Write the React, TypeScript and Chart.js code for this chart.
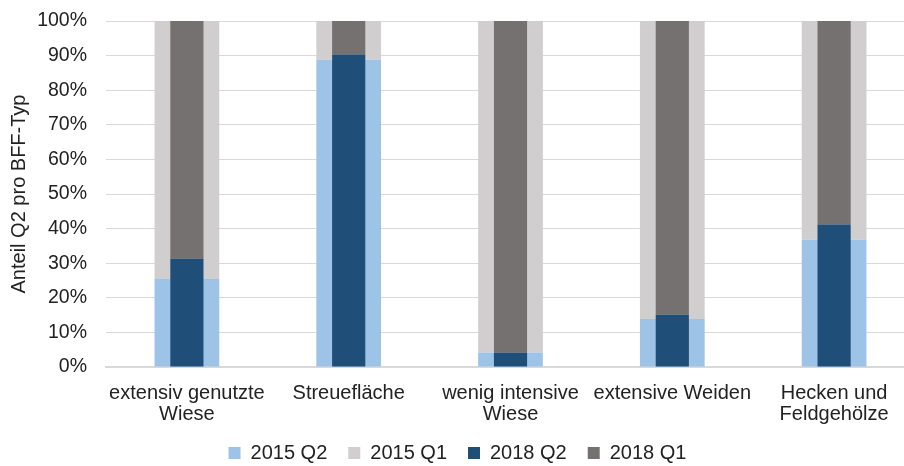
import React, { useEffect, useRef } from "react";
import { Chart, registerables } from "chart.js";

Chart.register(...registerables);

const categories: string[][] = [
  ["extensiv genutzte", "Wiese"],
  ["Streuefläche"],
  ["wenig intensive", "Wiese"],
  ["extensive Weiden"],
  ["Hecken und", "Feldgehölze"],
];

const q2_2015: number[] = [25.4, 88.8, 4.2, 13.9, 36.8];
const q1_2015: number[] = [74.6, 11.2, 95.8, 86.1, 63.2];
const q2_2018: number[] = [31.3, 90.3, 4.1, 15.1, 41.2];
const q1_2018: number[] = [68.7, 9.7, 95.9, 84.9, 58.8];

const seriesNames: string[] = ["2015 Q2", "2015 Q1", "2018 Q2", "2018 Q1"];
const yTicks: number[] = [0, 10, 20, 30, 40, 50, 60, 70, 80, 90, 100];

const FONT = "'Liberation Sans', Arial, sans-serif";
const TEXT = "#222222";

export default function App() {
  const ref = useRef<HTMLCanvasElement | null>(null);

  useEffect(() => {
    if (!ref.current) return;
    const chart = new Chart(ref.current, {
      type: "bar",
      data: {
        labels: categories,
        datasets: [
          { label: seriesNames[0], data: q2_2015, stack: "s2015", backgroundColor: "#9DC3E6", barPercentage: 0.4, order: 2 },
          { label: seriesNames[1], data: q1_2015, stack: "s2015", backgroundColor: "#D0CECE", barPercentage: 0.4, order: 2 },
          { label: seriesNames[2], data: q2_2018, stack: "s2018", backgroundColor: "#1F4E79", barPercentage: 0.205, order: 1 },
          { label: seriesNames[3], data: q1_2018, stack: "s2018", backgroundColor: "#767171", barPercentage: 0.205, order: 1 },
        ].map((d) => ({ ...d, borderWidth: 0, categoryPercentage: 1, grouped: false })),
      },
      options: {
        responsive: false,
        animation: false,
        devicePixelRatio: 1,
        layout: { padding: { top: 21, left: 0, right: 0, bottom: -7 } },
        plugins: {
          tooltip: { enabled: false },
          legend: {
            position: "bottom",
            labels: {
              boxWidth: 12,
              boxHeight: 12,
              padding: 21,
              color: TEXT,
              font: { family: FONT, size: 20 },
              sort: (a: any, b: any) => a.datasetIndex - b.datasetIndex,
            },
          },
        },
        scales: {
          x: {
            stacked: false,
            grid: { display: false },
            border: { display: true, color: "#D9D9D9", width: 2 },
            ticks: {
              autoSkip: false,
              maxRotation: 0,
              padding: 8,
              color: TEXT,
              font: { family: FONT, size: 20, lineHeight: 1.05 },
            },
            afterFit: (s: any) => {
              s.height = 55;
              s._computeLabelArea = () => undefined;
            },
          },
          y: {
            stacked: true,
            min: 0,
            max: 100,
            afterBuildTicks: (s: any) => {
              s.ticks = yTicks.map((v) => ({ value: v }));
            },
            grid: { color: "#D9D9D9", lineWidth: 1, drawTicks: false },
            border: { display: false },
            ticks: {
              padding: 19,
              color: TEXT,
              font: { family: FONT, size: 19.5 },
              callback: (v: any) => v + "%",
            },
            title: {
              display: true,
              text: "Anteil Q2 pro BFF-Typ",
              color: TEXT,
              font: { family: FONT, size: 20 },
              padding: { top: 7, bottom: 0 },
            },
            afterFit: (s: any) => {
              s.width = 106;
              s.paddingTop = 0;
              s.paddingBottom = 0;
            },
          },
        },
      },
    } as any);
    return () => chart.destroy();
  }, []);

  return (
    <div style={{ position: "fixed", left: 0, top: 0, width: 904, height: 466, overflow: "hidden", background: "#fff" }}>
      <canvas ref={ref} width={915} height={466} style={{ display: "block" }} />
    </div>
  );
}
